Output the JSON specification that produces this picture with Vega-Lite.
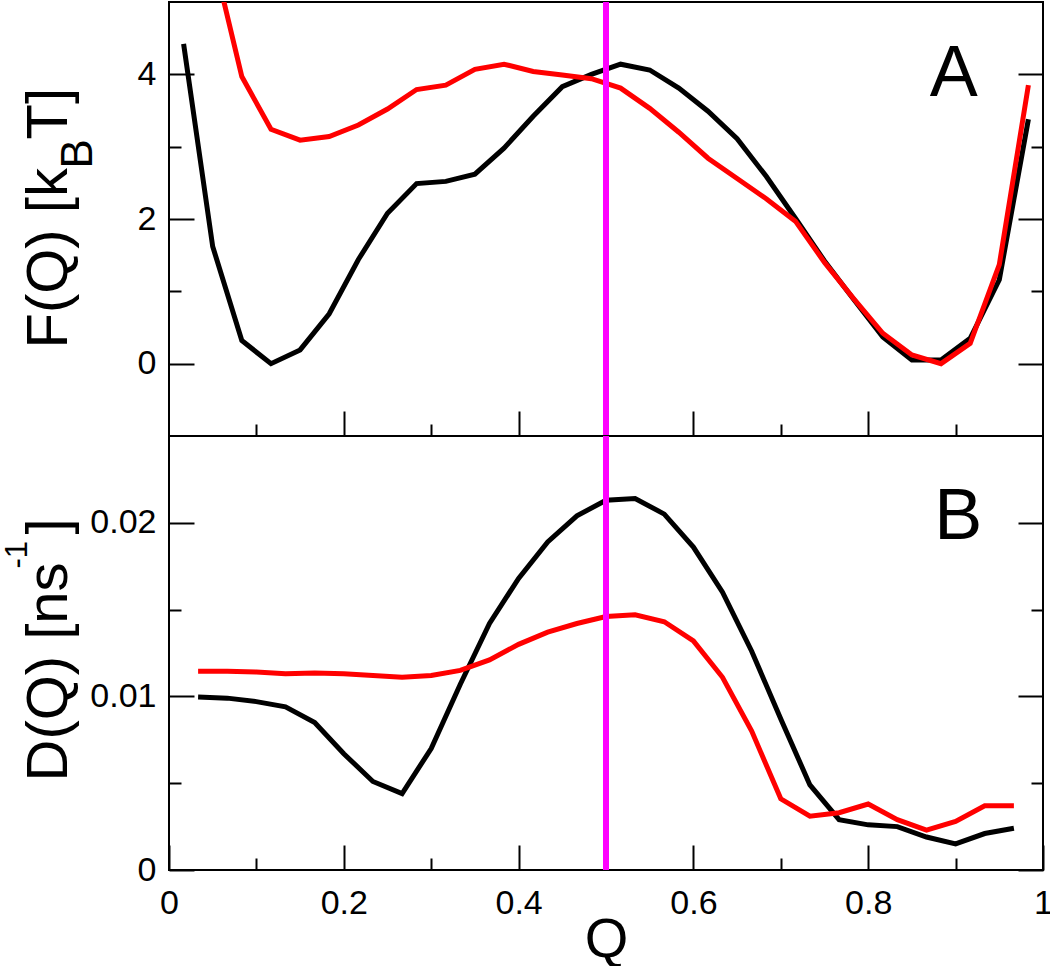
{
  "$schema": "https://vega.github.io/schema/vega-lite/v6.json",
  "padding": {"left": 0, "top": -2, "right": 0, "bottom": 0},
  "spacing": 0,
  "bounds": "flush",
  "config": {
    "view": {"stroke": "black", "strokeWidth": 2},
    "font": "Liberation Sans",
    "axis": {
      "domain": false, "grid": false, "tickColor": "black", "tickWidth": 2,
      "labelFont": "Liberation Sans", "labelFontSize": 34, "labelColor": "black",
      "titleFont": "Liberation Sans", "titleFontWeight": "normal", "titleColor": "black"
    }
  },
  "datasets": {
    "F": [
      {"Q": 0.0167, "black": 4.42, "red": null},
      {"Q": 0.05, "black": 1.62, "red": 5.65},
      {"Q": 0.0833, "black": 0.32, "red": 3.97},
      {"Q": 0.1167, "black": 0.0, "red": 3.24},
      {"Q": 0.15, "black": 0.19, "red": 3.09},
      {"Q": 0.1833, "black": 0.69, "red": 3.14},
      {"Q": 0.2167, "black": 1.44, "red": 3.30},
      {"Q": 0.25, "black": 2.08, "red": 3.52},
      {"Q": 0.2833, "black": 2.49, "red": 3.79},
      {"Q": 0.3167, "black": 2.52, "red": 3.85},
      {"Q": 0.35, "black": 2.62, "red": 4.07},
      {"Q": 0.3833, "black": 2.98, "red": 4.14},
      {"Q": 0.4167, "black": 3.42, "red": 4.04},
      {"Q": 0.45, "black": 3.83, "red": 3.99},
      {"Q": 0.4833, "black": 4.0, "red": 3.94},
      {"Q": 0.5167, "black": 4.14, "red": 3.81},
      {"Q": 0.55, "black": 4.06, "red": 3.53},
      {"Q": 0.5833, "black": 3.81, "red": 3.20},
      {"Q": 0.6167, "black": 3.49, "red": 2.84},
      {"Q": 0.65, "black": 3.11, "red": 2.56},
      {"Q": 0.6833, "black": 2.59, "red": 2.28},
      {"Q": 0.7167, "black": 2.01, "red": 1.97},
      {"Q": 0.75, "black": 1.42, "red": 1.40},
      {"Q": 0.7833, "black": 0.89, "red": 0.90},
      {"Q": 0.8167, "black": 0.37, "red": 0.42},
      {"Q": 0.85, "black": 0.05, "red": 0.12},
      {"Q": 0.8833, "black": 0.05, "red": 0.0},
      {"Q": 0.9167, "black": 0.35, "red": 0.28},
      {"Q": 0.95, "black": 1.16, "red": 1.37},
      {"Q": 0.9833, "black": 3.38, "red": 3.85}
    ],
    "D": [
      {"Q": 0.0333, "black": 0.00996, "red": 0.01145},
      {"Q": 0.0667, "black": 0.0099, "red": 0.01145},
      {"Q": 0.1, "black": 0.0097, "red": 0.0114},
      {"Q": 0.1333, "black": 0.0094, "red": 0.0113},
      {"Q": 0.1667, "black": 0.0085, "red": 0.01135},
      {"Q": 0.2, "black": 0.0067, "red": 0.0113},
      {"Q": 0.2333, "black": 0.0051, "red": 0.0112},
      {"Q": 0.2667, "black": 0.0044, "red": 0.0111},
      {"Q": 0.3, "black": 0.0070, "red": 0.0112},
      {"Q": 0.3333, "black": 0.0107, "red": 0.0115},
      {"Q": 0.3667, "black": 0.0142, "red": 0.0121},
      {"Q": 0.4, "black": 0.0168, "red": 0.0130},
      {"Q": 0.4333, "black": 0.0189, "red": 0.0137},
      {"Q": 0.4667, "black": 0.0204, "red": 0.0142},
      {"Q": 0.5, "black": 0.0213, "red": 0.0146},
      {"Q": 0.5333, "black": 0.0214, "red": 0.0147},
      {"Q": 0.5667, "black": 0.0205, "red": 0.0143},
      {"Q": 0.6, "black": 0.0186, "red": 0.0132},
      {"Q": 0.6333, "black": 0.0160, "red": 0.0111},
      {"Q": 0.6667, "black": 0.0126, "red": 0.0080},
      {"Q": 0.7, "black": 0.0087, "red": 0.0041},
      {"Q": 0.7333, "black": 0.0049, "red": 0.0031},
      {"Q": 0.7667, "black": 0.0029, "red": 0.0033},
      {"Q": 0.8, "black": 0.0026, "red": 0.0038},
      {"Q": 0.8333, "black": 0.0025, "red": 0.0029},
      {"Q": 0.8667, "black": 0.0019, "red": 0.0023},
      {"Q": 0.9, "black": 0.0015, "red": 0.0028},
      {"Q": 0.9333, "black": 0.0021, "red": 0.0037},
      {"Q": 0.9667, "black": 0.0024, "red": 0.0037}
    ]
  },
  "vconcat": [
    {
      "width": 874, "height": 434,
      "data": {"name": "F"},
      "resolve": {"axis": {"x": "independent", "y": "independent"}},
      "layer": [
        {
          "mark": {"type": "line", "color": "black", "strokeWidth": 5, "clip": true},
          "encoding": {
            "x": {"field": "Q", "type": "quantitative", "scale": {"domain": [0, 1], "nice": false, "zero": false},
              "axis": {"orient": "bottom", "values": [0.1, 0.2, 0.3, 0.4, 0.5, 0.6, 0.7, 0.8, 0.9], "labels": false,
                "tickSize": {"condition": {"test": "abs(datum.value*5 - round(datum.value*5)) < 1e-6", "value": -25}, "value": -12},
                "title": "T]", "titleAngle": -90, "titleFontSize": 58, "titleAlign": "left", "titleBaseline": "alphabetic",
                "titleX": -103, "titleY": -297}},
            "y": {"field": "black", "type": "quantitative", "scale": {"domain": [-1, 5], "nice": false, "zero": false},
              "axis": {"orient": "left", "values": [0, 1, 2, 3, 4],
                "labelExpr": "datum.value % 2 === 0 ? datum.label : ''",
                "labelFontSize": 34,
                "tickSize": {"condition": {"test": "datum.value % 2 === 0", "value": -25}, "value": -12},
                "labelPadding": 38,
                "title": "F(Q) [k", "titleAngle": -90, "titleFontSize": 58, "titleAlign": "left", "titleBaseline": "alphabetic",
                "titleX": -103, "titleY": 346}}
          }
        },
        {
          "mark": {"type": "line", "color": "#ff0000", "strokeWidth": 5, "clip": true},
          "encoding": {
            "x": {"field": "Q", "type": "quantitative", "axis": null},
            "y": {"field": "red", "type": "quantitative",
              "axis": {"orient": "right", "values": [0, 1, 2, 3, 4], "labels": false,
                "tickSize": {"condition": {"test": "datum.value % 2 === 0", "value": -25}, "value": -12},
                "title": "B", "titleAngle": -90, "titleFontSize": 44, "titleAlign": "left", "titleBaseline": "alphabetic",
                "titleX": -952, "titleY": 166}}
          }
        },
        {
          "mark": {"type": "rule", "color": "#ff00ff", "strokeWidth": 5},
          "encoding": {"x": {"datum": 0.5, "type": "quantitative", "axis": null}}
        },
        {
          "data": {"values": [{"label": "A", "Q": 0.898, "v": 3.70}]},
          "mark": {"type": "text", "fontSize": 72, "font": "Liberation Sans", "align": "center", "baseline": "alphabetic", "color": "black"},
          "encoding": {
            "x": {"field": "Q", "type": "quantitative", "axis": null},
            "y": {"field": "v", "type": "quantitative", "axis": null},
            "text": {"field": "label"}
          }
        }
      ]
    },
    {
      "width": 874, "height": 434,
      "data": {"name": "D"},
      "resolve": {"axis": {"x": "independent", "y": "independent"}},
      "layer": [
        {
          "mark": {"type": "line", "color": "black", "strokeWidth": 5, "clip": true},
          "encoding": {
            "x": {"field": "Q", "type": "quantitative", "scale": {"domain": [0, 1], "nice": false, "zero": false},
              "axis": {"orient": "bottom", "values": [0, 0.1, 0.2, 0.3, 0.4, 0.5, 0.6, 0.7, 0.8, 0.9, 1],
                "labelExpr": "abs(datum.value*5 - round(datum.value*5)) < 1e-6 ? (datum.value === 0 ? '0' : datum.value === 1 ? '1' : format(datum.value, '.1f')) : ''",
                "labelFontSize": 34,
                "labelFlush": false, "labelPadding": 41, "labelBaseline": "top",
                "tickSize": {"condition": {"test": "abs(datum.value*5 - round(datum.value*5)) < 1e-6", "value": -25}, "value": -12},
                "title": "Q", "titleFontSize": 56, "titleBaseline": "alphabetic", "titleY": 86}},
            "y": {"field": "black", "type": "quantitative", "scale": {"domain": [0, 0.025], "nice": false, "zero": false},
              "axis": {"orient": "left", "values": [0, 0.005, 0.01, 0.015, 0.02],
                "labelExpr": "abs(datum.value*100 - round(datum.value*100)) < 1e-6 ? (datum.value === 0 ? '0' : format(datum.value, '.2f')) : ''",
                "labelFontSize": 34,
                "tickSize": {"condition": {"test": "abs(datum.value*100 - round(datum.value*100)) < 1e-6", "value": -25}, "value": -12},
                "labelPadding": 38,
                "title": "D(Q) [ns", "titleAngle": -90, "titleFontSize": 58, "titleAlign": "left", "titleBaseline": "alphabetic",
                "titleX": -103, "titleY": 345}}
          }
        },
        {
          "mark": {"type": "line", "color": "#ff0000", "strokeWidth": 5, "clip": true},
          "encoding": {
            "x": {"field": "Q", "type": "quantitative",
              "axis": {"orient": "top", "ticks": false, "labels": false, "domain": false,
                "title": "]", "titleAngle": -90, "titleFontSize": 58, "titleAlign": "left", "titleBaseline": "alphabetic",
                "titleX": -103, "titleY": 98}},
            "y": {"field": "red", "type": "quantitative",
              "axis": {"orient": "right", "values": [0, 0.005, 0.01, 0.015, 0.02], "labels": false,
                "tickSize": {"condition": {"test": "abs(datum.value*100 - round(datum.value*100)) < 1e-6", "value": -25}, "value": -12},
                "title": "-1", "titleAngle": -90, "titleFontSize": 31, "titleAlign": "left", "titleBaseline": "alphabetic",
                "titleX": -1017, "titleY": 132}}
          }
        },
        {
          "mark": {"type": "rule", "color": "#ff00ff", "strokeWidth": 5},
          "encoding": {"x": {"datum": 0.5, "type": "quantitative", "axis": null}}
        },
        {
          "data": {"values": [{"label": "B", "Q": 0.903, "v": 0.01908}]},
          "mark": {"type": "text", "fontSize": 72, "font": "Liberation Sans", "align": "center", "baseline": "alphabetic", "color": "black"},
          "encoding": {
            "x": {"field": "Q", "type": "quantitative", "axis": null},
            "y": {"field": "v", "type": "quantitative", "axis": null},
            "text": {"field": "label"}
          }
        }
      ]
    }
  ]
}
